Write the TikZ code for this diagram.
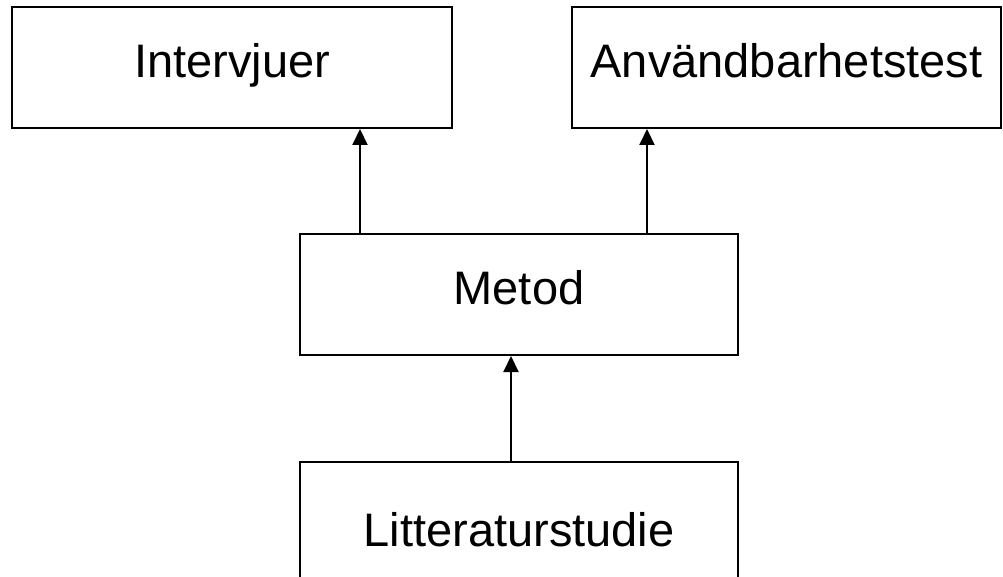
\documentclass[tikz,border=0pt]{standalone}
\usepackage{fontspec}
\setmainfont{Liberation Sans}
\usetikzlibrary{arrows.meta}

\begin{document}
\begin{tikzpicture}[x=1pt, y=-1pt]
        % Define styles
        \tikzset{
            box/.style={rectangle, draw, line width=2pt, inner sep=0pt, minimum width=440pt, minimum height=121pt,
                        font=\fontsize{47}{56}\selectfont, text height=34pt, text depth=14pt},
            arrow/.style={-{Triangle[width=15pt, length=16pt]}, line width=2pt}
        }
        \useasboundingbox (0,0) rectangle (1003,577);

        % Nodes
        \node[box] (intervjuer_node) at (232,67.5) {Intervjuer};
        \node[box, minimum width=429pt] (test_node) at (786.5,67.5) {Användbarhetstest};
        \node[box, minimum width=438pt] (metod_node) at (519,294.5) {Metod};
        \node[box, minimum width=438pt, minimum height=149pt] (litteratur_node) at (519,536.5) {Litteraturstudie};

        % Arrows
        \path (metod_node.north west) ++(61,0) coordinate (metod_left);
        \path (metod_node.north west) ++(348,0) coordinate (metod_right);
        \path (litteratur_node.north west) ++(212,0) coordinate (litteratur_top);
        \draw[arrow] (metod_left) -- (metod_left |- intervjuer_node.south);
        \draw[arrow] (metod_right) -- (metod_right |- test_node.south);
        \draw[arrow] (litteratur_top) -- (litteratur_top |- metod_node.south);
    \end{tikzpicture}
\end{document}
